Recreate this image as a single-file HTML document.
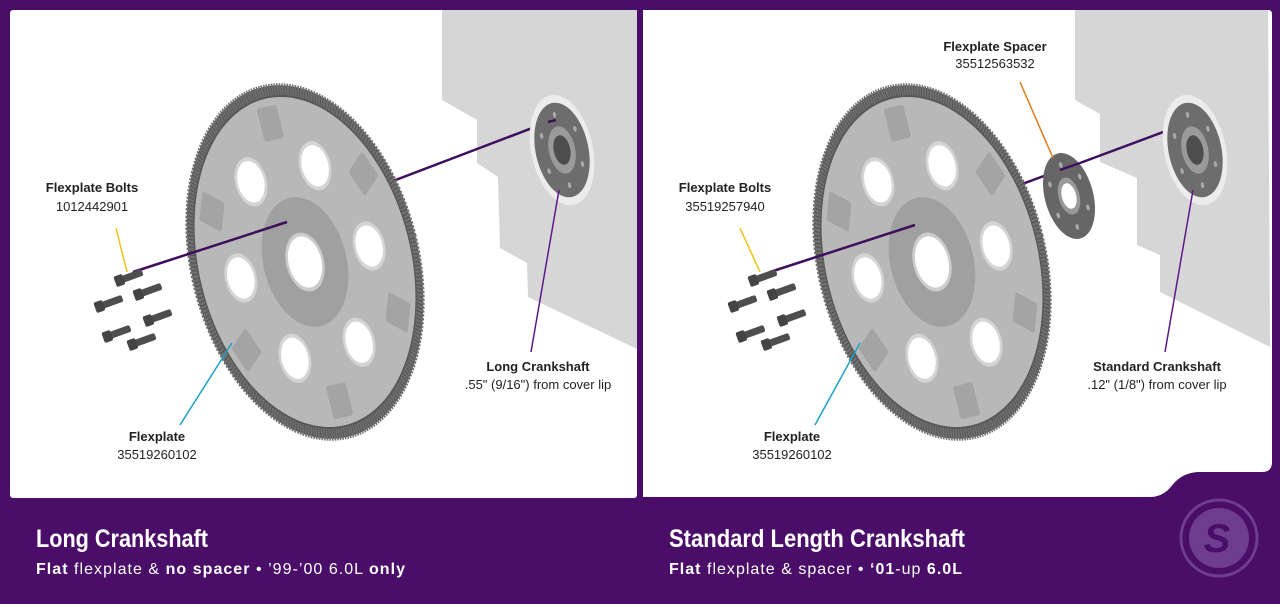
<!DOCTYPE html>
<html><head><meta charset="utf-8"><style>
html,body{margin:0;padding:0;width:1280px;height:604px;overflow:hidden;background:#4a0e68;font-family:"Liberation Sans",sans-serif}
</style></head><body>
<svg width="1280" height="604" viewBox="0 0 1280 604" xmlns="http://www.w3.org/2000/svg" font-family="Liberation Sans, sans-serif">
<defs>
<g id="plate">
 <circle r="180" fill="#585858"/>
 <circle r="176" fill="none" stroke="#707070" stroke-width="12" stroke-dasharray="2.4 1.6"/>
 <circle r="168" fill="#b8b8b8"/>
 <g fill="#a4a4a4">
  <rect x="-16" y="-160" width="32" height="34" rx="3"/>
  <rect x="-16" y="-160" width="32" height="34" rx="3" transform="rotate(60)"/>
  <rect x="-16" y="-160" width="32" height="34" rx="3" transform="rotate(120)"/>
  <rect x="-16" y="-160" width="32" height="34" rx="3" transform="rotate(180)"/>
  <rect x="-16" y="-160" width="32" height="34" rx="3" transform="rotate(240)"/>
  <rect x="-16" y="-160" width="32" height="34" rx="3" transform="rotate(300)"/>
 </g>
 <g fill="#fff" stroke="#d4d4d4" stroke-width="4">
  <circle cx="0" cy="-105" r="23" transform="rotate(30)"/>
  <circle cx="0" cy="-105" r="23" transform="rotate(90)"/>
  <circle cx="0" cy="-105" r="23" transform="rotate(150)"/>
  <circle cx="0" cy="-105" r="23" transform="rotate(210)"/>
  <circle cx="0" cy="-105" r="23" transform="rotate(270)"/>
  <circle cx="0" cy="-105" r="23" transform="rotate(330)"/>
 </g>
 <circle r="66" fill="#a0a0a0"/>
 <circle r="28" fill="#fff" stroke="#cccccc" stroke-width="4"/>
</g>
<g id="flange">
 <circle r="56" fill="#ececec"/>
 <circle r="48" fill="#6d6d6d"/>
 <circle r="24" fill="#9a9a9a"/>
 <circle r="15" fill="#4d4d4d"/>
 <g fill="#aaa"><circle cx="0" cy="-36" r="3"/><circle cx="0" cy="36" r="3"/><circle cx="31" cy="-18" r="3"/><circle cx="31" cy="18" r="3"/><circle cx="-31" cy="-18" r="3"/><circle cx="-31" cy="18" r="3"/></g>
</g>
<g id="bolt"><rect x="0" y="-3.5" width="26" height="7" rx="2" fill="#4e4e4e"/><rect x="-3" y="-5.5" width="9" height="11" rx="2" fill="#444"/></g>
<g id="bolts">
 <use href="#bolt" transform="translate(118,281) rotate(-20)"/>
 <use href="#bolt" transform="translate(137,295) rotate(-20)"/>
 <use href="#bolt" transform="translate(98,307) rotate(-20)"/>
 <use href="#bolt" transform="translate(147,321) rotate(-20)"/>
 <use href="#bolt" transform="translate(106,337) rotate(-20)"/>
 <use href="#bolt" transform="translate(131,345) rotate(-20)"/>
</g>
</defs>

<rect x="10" y="10" width="627" height="488" rx="3" fill="#fff"/>
<path d="M643 10 H1268 Q1272 10 1272 14 V462 Q1272 472 1262 472 H1200 Q1185 472 1175 482 L1168 490 Q1160 497 1150 497 H643 Z" fill="#fff"/>

<polygon points="442,10 637,10 637,349 528,297 527,263 500,248 498,177 477,163 477,120 442,100" fill="#d6d6d6"/>
<polygon points="1075,10 1268,10 1270,347 1160,292 1160,255 1137,245 1137,178 1100,162 1100,114 1075,100" fill="#d6d6d6"/>

<!-- LEFT -->
<line x1="330" y1="205" x2="548" y2="122" stroke="#3f0e5c" stroke-width="2.5"/>
<g transform="translate(305,262) rotate(-14) scale(0.63,1)"><use href="#plate"/></g>
<line x1="133" y1="272" x2="287" y2="222" stroke="#3f0e5c" stroke-width="2.5"/>
<g transform="translate(562,150) rotate(-12) scale(0.55,1)"><use href="#flange"/></g>
<line x1="548" y1="122" x2="556" y2="120" stroke="#3f0e5c" stroke-width="2.5"/>
<use href="#bolts"/>
<line x1="116" y1="228" x2="127" y2="272" stroke="#f2c21b" stroke-width="1.5"/>
<line x1="232" y1="343" x2="180" y2="425" stroke="#1aa0c8" stroke-width="1.5"/>
<line x1="559" y1="190" x2="531" y2="352" stroke="#5b1a86" stroke-width="1.5"/>
<g font-size="13" fill="#222" text-anchor="middle">
 <text x="92" y="192" font-weight="bold">Flexplate Bolts</text>
 <text x="92" y="211">1012442901</text>
 <text x="157" y="441" font-weight="bold">Flexplate</text>
 <text x="157" y="459">35519260102</text>
 <text x="538" y="371" font-weight="bold">Long Crankshaft</text>
 <text x="538" y="389">.55" (9/16") from cover lip</text>
</g>

<!-- RIGHT -->
<line x1="960" y1="207" x2="1060" y2="170" stroke="#3f0e5c" stroke-width="2.5"/>
<line x1="1080" y1="163" x2="1182" y2="125" stroke="#3f0e5c" stroke-width="2.5"/>
<g transform="translate(932,262) rotate(-14) scale(0.63,1)"><use href="#plate"/></g>
<line x1="770" y1="272" x2="915" y2="225" stroke="#3f0e5c" stroke-width="2.5"/>
<g transform="translate(1195,150) rotate(-12) scale(0.55,1)"><use href="#flange"/></g>
<g transform="translate(1069,196) rotate(-15) scale(0.55,1)">
 <circle r="44" fill="#666"/><circle r="16" fill="#fff" stroke="#999" stroke-width="6"/>
 <g fill="#aaa"><circle cx="0" cy="-32" r="3"/><circle cx="0" cy="32" r="3"/><circle cx="28" cy="-16" r="3"/><circle cx="28" cy="16" r="3"/><circle cx="-28" cy="-16" r="3"/><circle cx="-28" cy="16" r="3"/></g>
</g>
<line x1="1060" y1="170" x2="1080" y2="163" stroke="#3f0e5c" stroke-width="2.5"/>
<use href="#bolts" transform="translate(634,0)"/>
<line x1="740" y1="228" x2="760" y2="272" stroke="#f2c21b" stroke-width="1.5"/>
<line x1="860" y1="343" x2="815" y2="425" stroke="#1aa0c8" stroke-width="1.5"/>
<line x1="1020" y1="82" x2="1053" y2="158" stroke="#e07b1a" stroke-width="1.5"/>
<line x1="1193" y1="190" x2="1165" y2="352" stroke="#5b1a86" stroke-width="1.5"/>
<g font-size="13" fill="#222" text-anchor="middle">
 <text x="725" y="192" font-weight="bold">Flexplate Bolts</text>
 <text x="725" y="211">35519257940</text>
 <text x="792" y="441" font-weight="bold">Flexplate</text>
 <text x="792" y="459">35519260102</text>
 <text x="995" y="51" font-weight="bold">Flexplate Spacer</text>
 <text x="995" y="68">35512563532</text>
 <text x="1157" y="371" font-weight="bold">Standard Crankshaft</text>
 <text x="1157" y="389">.12" (1/8") from cover lip</text>
</g>

<g fill="#fff">
 <text x="36" y="547" font-size="25" font-weight="bold" textLength="172" lengthAdjust="spacingAndGlyphs">Long Crankshaft</text>
 <text x="36" y="574" font-size="16" textLength="369"><tspan font-weight="bold">Flat</tspan> flexplate &amp; <tspan font-weight="bold">no spacer</tspan>  •  ’99-’00 6.0L <tspan font-weight="bold">only</tspan></text>
 <text x="669" y="547" font-size="25" font-weight="bold" textLength="296" lengthAdjust="spacingAndGlyphs">Standard Length Crankshaft</text>
 <text x="669" y="574" font-size="16" textLength="293"><tspan font-weight="bold">Flat</tspan> flexplate &amp; spacer  •  <tspan font-weight="bold">‘01</tspan>-up <tspan font-weight="bold">6.0L</tspan></text>
</g>

<g transform="translate(1219,538)">
 <circle r="38" fill="none" stroke="#6e3d90" stroke-width="3"/>
 <circle r="30" fill="#6e3d90"/>
 <text x="-2" y="14" font-size="40" font-weight="bold" font-style="italic" fill="#4a0e68" text-anchor="middle">S</text>
</g>
</svg>
</body></html>
